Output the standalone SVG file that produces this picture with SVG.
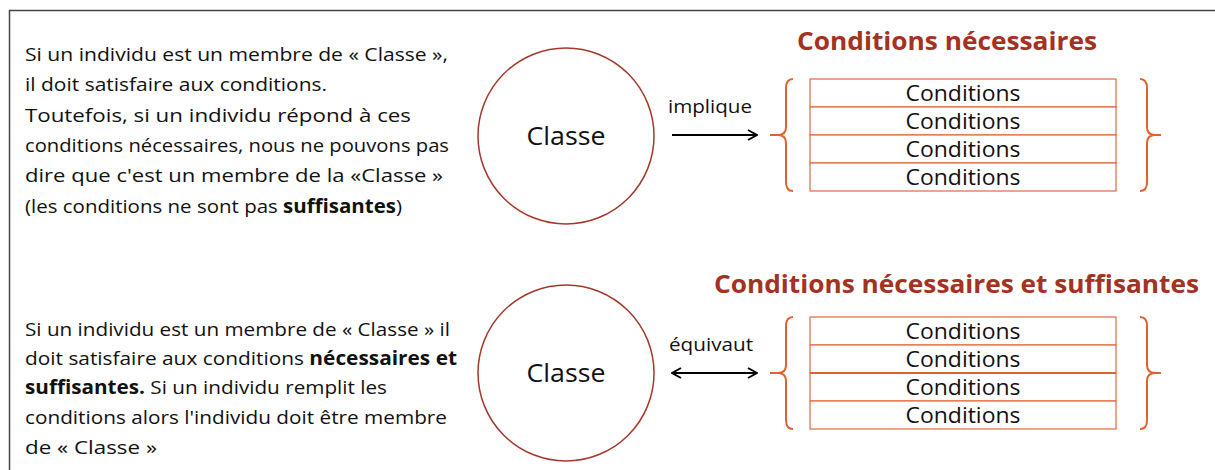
<svg xmlns="http://www.w3.org/2000/svg" width="1215" height="470" viewBox="0 0 1215 470">
<defs>
<style>
text{font-family:"Open Sans","Liberation Sans",sans-serif}
.body{font-size:19px;fill:#111}
.b{font-weight:bold}
.cls{font-size:25px;fill:#111;text-anchor:middle}
.cond{font-size:21px;fill:#111;text-anchor:middle}
.lbl{font-size:18px;fill:#111;text-anchor:middle}
.title{font-size:25px;font-weight:bold;fill:#a3321f;text-anchor:middle}
.circ{fill:none;stroke:#a4392b;stroke-width:1.5}
.row{fill:#fff;stroke:#e0693d;stroke-width:1.2}
.brace{fill:none;stroke:#e0622f;stroke-width:2}
.arr{stroke:#000;stroke-width:2;fill:none}
</style>
<marker id="ah" viewBox="0 0 12 12" refX="11" refY="6" markerWidth="12" markerHeight="12" markerUnits="userSpaceOnUse" orient="auto-start-reverse">
<path d="M2,1 L11,6 L2,11" fill="none" stroke="#000" stroke-width="2"/>
</marker>
</defs>
<rect width="1215" height="470" fill="#fff"/>
<path d="M9.5,470 V10.5 H1215" fill="none" stroke="#444" stroke-width="1.5"/>

<g id="text-top">
<text class="body" x="25" y="61" textLength="423" lengthAdjust="spacingAndGlyphs">Si un individu est un membre de « Classe »,</text>
<text class="body" x="25" y="91" textLength="302" lengthAdjust="spacingAndGlyphs">il doit satisfaire aux conditions.</text>
<text class="body" x="25" y="122" textLength="386" lengthAdjust="spacingAndGlyphs">Toutefois, si un individu répond à ces</text>
<text class="body" x="25" y="152" textLength="424" lengthAdjust="spacingAndGlyphs">conditions nécessaires, nous ne pouvons pas</text>
<text class="body" x="25" y="182" textLength="418" lengthAdjust="spacingAndGlyphs">dire que c'est un membre de la «Classe »</text>
<text class="body" x="25" y="213" textLength="377" lengthAdjust="spacingAndGlyphs">(les conditions ne sont pas <tspan class="b">suffisantes</tspan>)</text>
</g>
<g id="text-bottom">
<text class="body" x="25" y="336" textLength="425" lengthAdjust="spacingAndGlyphs">Si un individu est un membre de « Classe » il</text>
<text class="body" x="25" y="365" textLength="432" lengthAdjust="spacingAndGlyphs">doit satisfaire aux conditions <tspan class="b">nécessaires et</tspan></text>
<text class="body" x="25" y="394" textLength="362" lengthAdjust="spacingAndGlyphs"><tspan class="b">suffisantes.</tspan> Si un individu remplit les</text>
<text class="body" x="25" y="424" textLength="422" lengthAdjust="spacingAndGlyphs">conditions alors l'individu doit être membre</text>
<text class="body" x="25" y="454" textLength="132" lengthAdjust="spacingAndGlyphs">de « Classe »</text>
</g>

<g id="classe-top">
<circle class="circ" cx="566" cy="136" r="88"/>
<text class="cls" x="566" y="145" textLength="79" lengthAdjust="spacingAndGlyphs">Classe</text>
</g>
<g id="classe-bottom">
<circle class="circ" cx="566" cy="373" r="88"/>
<text class="cls" x="566" y="382" textLength="79" lengthAdjust="spacingAndGlyphs">Classe</text>
</g>

<g id="conditions-top">
<text class="title" x="947" y="50" textLength="300" lengthAdjust="spacingAndGlyphs">Conditions nécessaires</text>
<rect class="row" x="810" y="79" width="306" height="28"/>
<rect class="row" x="810" y="107" width="306" height="28"/>
<rect class="row" x="810" y="135" width="306" height="28"/>
<rect class="row" x="810" y="163" width="306" height="28"/>
<text class="cond" x="963" y="101" textLength="115" lengthAdjust="spacingAndGlyphs">Conditions</text>
<text class="cond" x="963" y="129" textLength="115" lengthAdjust="spacingAndGlyphs">Conditions</text>
<text class="cond" x="963" y="157" textLength="115" lengthAdjust="spacingAndGlyphs">Conditions</text>
<text class="cond" x="963" y="185" textLength="115" lengthAdjust="spacingAndGlyphs">Conditions</text>
<path class="brace" d="M793,79 Q786,79 786,88 V127 Q786,135 778,135 H770 M778,135 Q786,135 786,143 V182 Q786,191 793,191"/>
<path class="brace" d="M1140,79 Q1147,79 1147,88 V127 Q1147,135 1155,135 H1161 M1155,135 Q1147,135 1147,143 V182 Q1147,191 1140,191"/>
</g>

<g id="conditions-bottom">
<text class="title" x="956.5" y="293" textLength="485" lengthAdjust="spacingAndGlyphs">Conditions nécessaires et suffisantes</text>
<rect class="row" x="810" y="317" width="306" height="28"/>
<rect class="row" x="810" y="345" width="306" height="28"/>
<rect class="row" x="810" y="373" width="306" height="28"/>
<rect class="row" x="810" y="401" width="306" height="28"/>
<line x1="810" y1="373" x2="1116" y2="373" stroke="#e0622f" stroke-width="2"/>
<text class="cond" x="963" y="339" textLength="115" lengthAdjust="spacingAndGlyphs">Conditions</text>
<text class="cond" x="963" y="367" textLength="115" lengthAdjust="spacingAndGlyphs">Conditions</text>
<text class="cond" x="963" y="395" textLength="115" lengthAdjust="spacingAndGlyphs">Conditions</text>
<text class="cond" x="963" y="423" textLength="115" lengthAdjust="spacingAndGlyphs">Conditions</text>
<path class="brace" d="M793,317 Q786,317 786,326 V365 Q786,373 778,373 H770 M778,373 Q786,373 786,381 V420 Q786,429 793,429"/>
<path class="brace" d="M1140,317 Q1147,317 1147,326 V365 Q1147,373 1155,373 H1161 M1155,373 Q1147,373 1147,381 V420 Q1147,429 1140,429"/>
</g>

<g id="connectors">
<text class="lbl" x="710" y="113" textLength="84" lengthAdjust="spacingAndGlyphs">implique</text>
<line class="arr" x1="672" y1="135" x2="757" y2="135" marker-end="url(#ah)"/>
<text class="lbl" x="711" y="351" textLength="84" lengthAdjust="spacingAndGlyphs">équivaut</text>
<line class="arr" x1="672" y1="373" x2="757" y2="373" marker-start="url(#ah)" marker-end="url(#ah)"/>
</g>
</svg>
